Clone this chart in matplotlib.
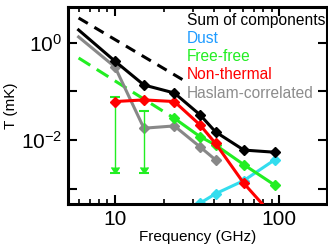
import matplotlib
matplotlib.use("Agg")
import matplotlib.pyplot as plt
from matplotlib.ticker import NullLocator, FixedLocator

plt.rcParams['font.family'] = 'Liberation Sans'
plt.rcParams['mathtext.fontset'] = 'custom'
plt.rcParams['mathtext.rm'] = 'Liberation Sans'
plt.rcParams['mathtext.it'] = 'Liberation Sans:italic'

# frequencies (GHz) and temperatures (mK)
freq_sum = [6, 10, 15, 23, 33, 41, 61, 94]
T_sum = [1.85, 0.42, 0.136, 0.093, 0.033, 0.0147, 0.0062, 0.0056]

freq_sum_ext = [6, 27]
T_sum_ext = [3.27, 0.16]

freq_haslam = [6, 10, 15, 23, 33, 41]
T_haslam = [1.33, 0.32, 0.0175, 0.0195, 0.0072, 0.0039]

freq_nt = [10, 15, 23, 33, 41, 61, 94]
T_nt = [0.062, 0.067, 0.062, 0.0204, 0.0085, 0.00128, 0.00025]

freq_ff = [23, 33, 41, 61, 94]
T_ff = [0.028, 0.0117, 0.0079, 0.0031, 0.00118]

freq_ff_ext = [6, 23]
T_ff_ext = [0.49, 0.028]

freq_ff_lim = [10, 15]
T_ff_lim_hi = [0.077, 0.040]
T_ff_lim_lo = [0.0021, 0.0021]

freq_dust = [33, 41, 61, 94]
T_dust = [5.0e-4, 7.8e-4, 1.46e-3, 3.9e-3]

labels = ['Sum of components', 'Dust', 'Free-free', 'Non-thermal', 'Haslam-correlated']
label_colors = ['black', '#1E9BFF', '#22EE22', '#FF0000', '#8C8C8C']

green = '#22EE22'
lw = 2.2
ms = 5.5

fig = plt.figure(figsize=(3.28, 2.45), dpi=100)
ax = fig.add_axes([68/328, 1 - 204/245, 259/328, 197/245])

ax.plot(freq_dust, T_dust, color='#33DDEE', lw=lw, marker='D', ms=ms, zorder=2)
ax.plot(freq_ff_ext, T_ff_ext, color=green, lw=lw, ls=(0, (4.5, 2.5)), zorder=2)
ax.plot(freq_haslam, T_haslam, color='#888888', lw=lw, marker='D', ms=ms,
        markevery=list(range(1, len(freq_haslam))), zorder=3)

# free-free upper limits
ax.vlines(freq_ff_lim, T_ff_lim_lo, T_ff_lim_hi, color=green, lw=1.0, zorder=3)
ax.plot(freq_ff_lim, T_ff_lim_hi, ls='none', marker='_', ms=7, mew=1.5, color=green, zorder=3)
ax.plot(freq_ff_lim, T_ff_lim_lo, ls='none', marker='_', ms=7, mew=1.5, color=green, zorder=3)
ax.plot(freq_ff_lim, T_ff_lim_lo, ls='none', marker=7, ms=6, color=green, zorder=3)

ax.plot(freq_ff, T_ff, color=green, lw=lw, marker='D', ms=ms, zorder=4)
ax.plot(freq_nt, T_nt, color='#FF0000', lw=lw, marker='D', ms=ms, zorder=5)
ax.plot(freq_sum_ext, T_sum_ext, color='black', lw=lw, ls=(0, (3.5, 2.5)), zorder=5)
ax.plot(freq_sum, T_sum, color='black', lw=lw, marker='D', ms=ms,
        markevery=list(range(1, len(freq_sum))), zorder=6)

ax.set_xscale('log')
ax.set_yscale('log')
ax.set_xlim(5.17, 196)
ax.set_ylim(4.8e-4, 5.5)

ax.yaxis.set_major_locator(FixedLocator([1e-3, 1e-2, 1e-1, 1e0]))
ax.yaxis.set_minor_locator(NullLocator())
ax.set_yticklabels(['', '$10^{-2}$', '', '$10^{0}$'])
ax.xaxis.set_major_locator(FixedLocator([10, 100]))
ax.set_xticklabels(['10', '100'])

for s in ax.spines.values():
    s.set_linewidth(2.2)
ax.tick_params(which='both', direction='in', top=True, right=True)
ax.tick_params(which='major', length=6.5, width=1.5, labelsize=15, pad=4)
ax.tick_params(which='minor', length=3.5, width=1.2)

ax.set_xlabel('Frequency (GHz)', fontsize=11, labelpad=1)
ax.set_ylabel('T (mK)', fontsize=11, labelpad=2)

for i, (lab, c) in enumerate(zip(labels, label_colors)):
    ax.text(0.46, 0.934 - i * 0.093, lab, color=c, fontsize=11.2,
            transform=ax.transAxes, ha='left', va='center', zorder=7)

fig.savefig('out.png', dpi=100)
